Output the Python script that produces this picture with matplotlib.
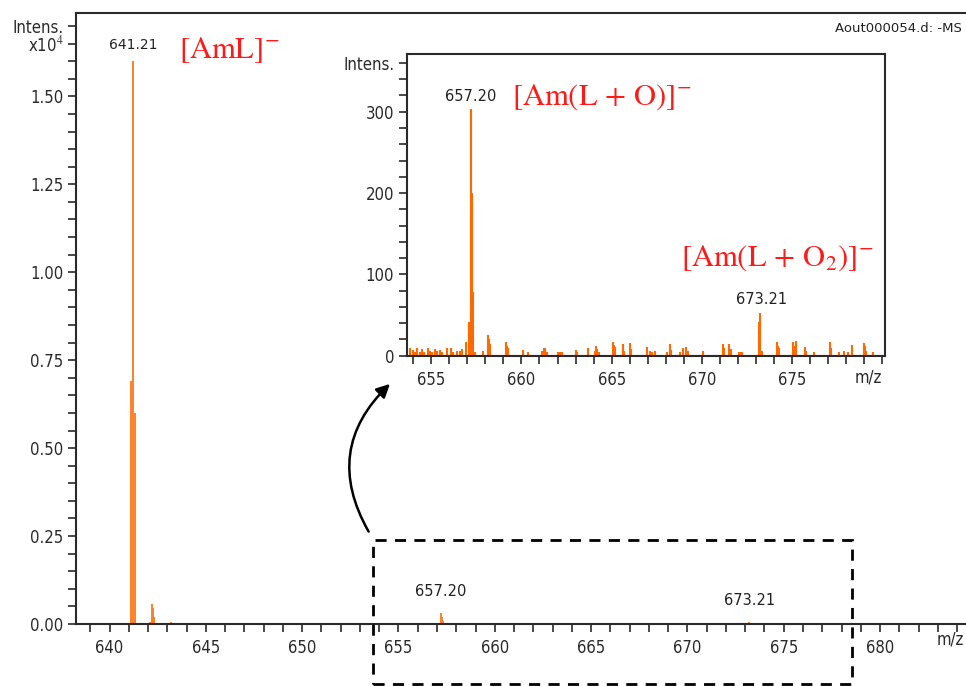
import matplotlib
matplotlib.use("Agg")
import matplotlib.pyplot as plt
from matplotlib.patches import Rectangle, FancyArrowPatch
from matplotlib.ticker import MultipleLocator
import numpy as np

# main spectrum peaks (m/z, intensity in counts)
main_mz = [641.10, 641.21, 641.30, 642.12, 642.20, 642.26, 642.32, 643.18, 643.24]
main_int = [6900, 16000, 6000, 60, 570, 450, 210, 66, 40]

# zoomed region 653.6 - 680 (m/z, intensity in counts)
zoom_mz = [653.85, 654.01, 654.12, 654.21, 654.35, 654.50, 654.62, 654.80, 654.95, 655.05,
           655.20, 655.32, 655.50, 655.62, 655.90, 656.09, 656.20, 656.45, 656.58, 656.70,
           656.92, 657.12, 657.20, 657.25, 657.32, 657.45, 657.85, 658.17, 658.22, 658.27,
           659.16, 659.22, 659.26, 660.11, 660.35, 661.12, 661.24, 661.32, 661.40, 662.05,
           662.13, 662.22, 663.02, 663.10, 663.71, 664.05, 664.11, 664.17, 664.30, 665.10,
           665.15, 665.20, 665.63, 665.70, 665.99, 666.05, 666.98, 667.10, 667.25, 667.38,
           668.05, 668.21, 668.30, 668.80, 668.96, 669.12, 669.25, 670.05, 671.18, 671.25,
           671.53, 671.60, 672.05, 672.13, 672.22, 673.16, 673.21, 673.35, 674.15, 674.21,
           674.27, 675.06, 675.13, 675.20, 675.69, 675.76, 676.19, 677.12, 677.18, 677.60,
           677.87, 678.10, 678.31, 678.96, 679.06, 679.12, 679.50]
zoom_int = [9, 7, 5, 9, 4, 8, 5, 9, 6, 5,
            8, 6, 7, 4, 10, 9, 4, 6, 6, 8,
            17, 42, 303, 200, 78, 4, 6, 25, 20, 15,
            17, 12, 10, 7, 4, 6, 10, 9, 5, 4,
            5, 4, 7, 5, 10, 6, 12, 8, 4, 17,
            13, 11, 14, 6, 16, 8, 11, 6, 4, 6,
            5, 14, 7, 5, 9, 11, 6, 6, 14, 9,
            14, 8, 4, 5, 4, 42, 53, 6, 17, 12,
            10, 17, 12, 18, 11, 6, 5, 17, 9, 4,
            6, 5, 13, 16, 12, 6, 5]

main_xticks = [640, 645, 650, 655, 660, 665, 670, 675, 680]
main_yticks = [0.0, 0.25, 0.5, 0.75, 1.0, 1.25, 1.5, 1.65, 1.70]
main_ylabels = ["0.00", "0.25", "0.50", "0.75", "1.00", "1.25", "1.50", "x10$^4$", "Intens."]
inset_xticks = [655, 660, 665, 670, 675]
inset_yticks = [0, 100, 200, 300, 360]
inset_ylabels = ["0", "100", "200", "300", "Intens."]

orange = "#ff6a00"
spine_col = "#2a2a2a"
tick_font = {"family": "DejaVu Sans", "stretch": "condensed", "size": 12}

plt.rcParams["mathtext.fontset"] = "stix"

fig = plt.figure(figsize=(9.66, 6.86), dpi=100)

# ---- main axes ----
ax = fig.add_axes([76 / 966, 1 - 624 / 686, 1 - 76 / 966, (624 - 13) / 686])
all_mz = np.array(main_mz + zoom_mz)
all_int = np.array(main_int + zoom_int) / 1e4
ax.vlines(all_mz, 0, all_int, color="#ff7f27", lw=1.4)
ax.set_xlim(638.26, 684.46)
ax.set_ylim(0, 1.737)
ax.spines["right"].set_visible(False)
for s in ["left", "bottom", "top"]:
    ax.spines[s].set_color(spine_col)
    ax.spines[s].set_linewidth(1.5)
ax.set_xticks(main_xticks)
ax.set_xticklabels([str(t) for t in main_xticks], fontdict=tick_font, color=spine_col)
ax.xaxis.set_minor_locator(MultipleLocator(1))
ax.set_yticks(main_yticks)
ax.set_yticklabels(main_ylabels, fontdict=tick_font, color=spine_col)
ax.yaxis.set_minor_locator(MultipleLocator(0.05))
ax.tick_params(which="both", direction="out", length=6, width=1.2, color=spine_col)
ax.tick_params(axis="x", pad=5)
ax.tick_params(axis="y", pad=3)
fig.text(950 / 966, 1 - 640 / 686, "m/z", ha="center", va="center", color=spine_col, **tick_font)

ax.text(641.21, 1.625, "641.21", ha="center", va="bottom", fontsize=10, color="#222222")
ax.text(657.20, 0.07, "657.20", ha="center", va="bottom", fontsize=10.5, color="#222222")
ax.text(673.21, 0.045, "673.21", ha="center", va="bottom", fontsize=10.5, color="#222222")
ax.text(643.6, 1.633, r"$\mathrm{[AmL]}^{-}$", ha="left", va="center", fontsize=22, color="#ff1a1a")
fig.text(962 / 966, 1 - 28 / 686, "Aout000054.d: -MS", ha="right", va="center", fontsize=9.5,
         color="#222222")

# dashed box around the zoomed region
rect = Rectangle((373 / 966, 1 - 684 / 686), (852 - 373) / 966, (684 - 540) / 686,
                 transform=fig.transFigure, fill=False, ls=(0, (4, 3)), lw=2, ec="black")
fig.patches.append(rect)

# curved arrow to inset
arrow = FancyArrowPatch((370 / 966, 1 - 534 / 686), (392 / 966, 1 - 382 / 686),
                        transform=fig.transFigure, connectionstyle="arc3,rad=-0.4",
                        arrowstyle="-|>,head_length=8,head_width=4", lw=1.8, color="black")
fig.patches.append(arrow)

# ---- inset axes ----
axi = fig.add_axes([406.7 / 966, 1 - 355.7 / 686, (885 - 406.7) / 966, (355.7 - 54) / 686])
axi.axhline(0, color=orange, lw=1.5)
axi.vlines(zoom_mz, 0, zoom_int, color=orange, lw=1.5)
axi.set_xlim(653.64, 680.15)
axi.set_ylim(0, 371)
for s in axi.spines.values():
    s.set_color(spine_col)
    s.set_linewidth(1.5)
axi.set_xticks(inset_xticks)
axi.set_xticklabels([str(t) for t in inset_xticks], fontdict=tick_font, color=spine_col)
axi.xaxis.set_minor_locator(MultipleLocator(1))
axi.set_yticks(inset_yticks)
axi.set_yticklabels(inset_ylabels, fontdict=tick_font, color=spine_col)
axi.yaxis.set_minor_locator(MultipleLocator(20))
axi.tick_params(which="both", direction="out", length=6, width=1.2, color=spine_col)
axi.tick_params(axis="x", pad=5)
axi.tick_params(axis="y", pad=3)
fig.text(868 / 966, 1 - 378 / 686, "m/z", ha="center", va="center", color=spine_col, **tick_font)

axi.text(657.20, 309, "657.20", ha="center", va="bottom", fontsize=10.5, color="#222222")
axi.text(673.30, 60, "673.21", ha="center", va="bottom", fontsize=10.5, color="#222222")
axi.text(659.45, 318, r"$\mathrm{[Am(L\,+\,O)]}^{-}$", ha="left", va="center", fontsize=22,
         color="#ff1a1a")
axi.text(668.85, 120, r"$\mathrm{[Am(L\,+\,O_2)]}^{-}$", ha="left", va="center", fontsize=22,
         color="#ff1a1a")

fig.savefig("out.png", dpi=100)
